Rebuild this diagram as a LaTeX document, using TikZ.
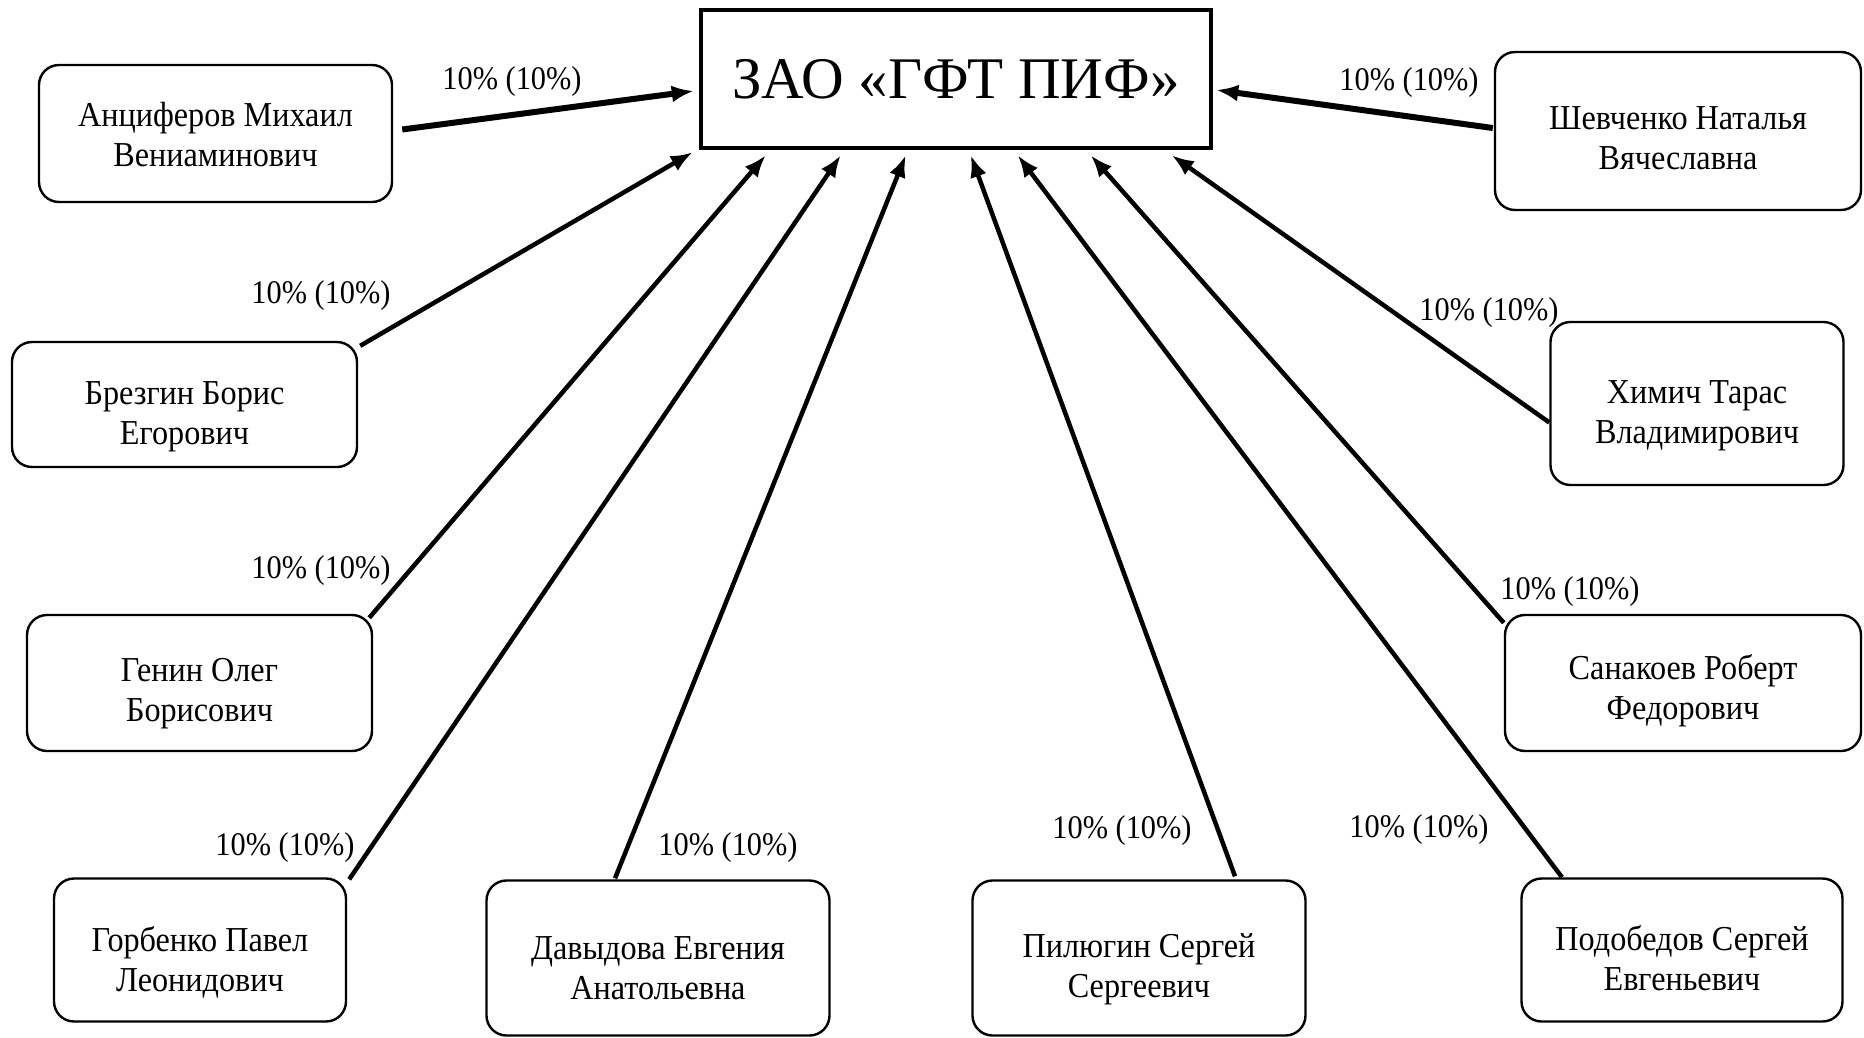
\documentclass[tikz,border=0pt]{standalone}
\usepackage{fontspec}
\setmainfont{Liberation Serif}
\newfontfamily\namefont[FakeStretch=0.92]{Liberation Serif}
\usetikzlibrary{arrows.meta}
\begin{document}
\begin{tikzpicture}[x=1pt,y=-1pt,
  person/.style={draw, line width=2.4pt, rounded corners=20pt, inner sep=0pt},
  nametext/.style={align=center, inner sep=0pt, font=\namefont\fontsize{35}{40}\selectfont},
  lbl/.style={inner sep=0pt, font=\namefont\fontsize{33}{36}\selectfont},
  arr/.style={line width=4.5pt, -{Latex[length=22pt,width=17pt]}},
  arrb/.style={line width=6pt, -{Latex[length=22pt,width=17pt]}}]
\useasboundingbox (0,0) rectangle (1864,1038);
\fill[white] (0,0) rectangle (1864,1038);

\node[draw, line width=4.5pt, minimum width=510pt, minimum height=138pt, inner sep=0pt,
  font=\fontsize{59}{64}\selectfont] (z) at (956,79) {ЗАО «ГФТ ПИФ»};

\node[person, minimum width=353pt, minimum height=137pt] (a1) at (215.5,133.5) {};
\node[person, minimum width=345pt, minimum height=125pt] (b2) at (184.5,404.5) {};
\node[person, minimum width=345pt, minimum height=136pt] (c3) at (199.5,683) {};
\node[person, minimum width=292pt, minimum height=143pt] (d4) at (200,950) {};
\node[person, minimum width=343pt, minimum height=155pt] (e5) at (658,958) {};
\node[person, minimum width=333pt, minimum height=155pt] (f6) at (1139,958) {};
\node[person, minimum width=321pt, minimum height=143pt] (g7) at (1682,950) {};
\node[person, minimum width=356pt, minimum height=136pt] (h8) at (1683,683) {};
\node[person, minimum width=293pt, minimum height=163pt] (i9) at (1697,403.5) {};
\node[person, minimum width=366pt, minimum height=158pt] (j10) at (1678,131) {};

\node[nametext] (a1t) at ([shift={(0,1)}]a1.center) {Анциферов Михаил\\Вениаминович};
\node[nametext] (b2t) at ([shift={(0,12)}]b2.center) {Брезгин Борис\\Егорович};
\node[nametext] (c3t) at ([shift={(0,11)}]c3.center) {Генин Олег\\Борисович};
\node[nametext] (d4t) at ([shift={(0,12)}]d4.center) {Горбенко Павел\\Леонидович};
\node[nametext] (e5t) at ([shift={(0,10)}]e5.center) {Давыдова Евгения\\Анатольевна};
\node[nametext] (f6t) at ([shift={(0,11)}]f6.center) {Пилюгин Сергей\\Сергеевич};
\node[nametext] (g7t) at ([shift={(0,8)}]g7.center) {Подобедов Сергей\\Евгеньевич};
\node[nametext] (h8t) at ([shift={(0,8)}]h8.center) {Санакоев Роберт\\Федорович};
\node[nametext] (i9t) at ([shift={(0,12)}]i9.center) {Химич Тарас\\Владимирович};
\node[nametext] (j10t) at ([shift={(0,7)}]j10.center) {Шевченко Наталья\\Вячеславна};

\draw[arrb] ([shift={(9,-4)}]a1.east) -- ([shift={(-5,12)}]z.west);
\draw[arr] ([shift={(2,5)}]b2.north east) -- ([shift={(-6,2)}]z.south west);
\draw[arr] ([shift={(-4,4)}]c3.north east) -- ([shift={(67,5)}]z.south west);
\draw[arr] ([shift={(2,2)}]d4.north east) -- ([shift={(142,5)}]z.south west);
\draw[arr] ([shift={(-43,-1)}]e5.north) -- ([shift={(207,5)}]z.south west);
\draw[arr] ([shift={(96,-3)}]f6.north) -- ([shift={(272,5)}]z.south west);
\draw[arr] ([shift={(-120,0)}]g7.north) -- ([shift={(319,5)}]z.south west);
\draw[arr] ([shift={(0,9)}]h8.north west) -- ([shift={(392,5)}]z.south west);
\draw[arr] ([shift={(0,19)}]i9.west) -- ([shift={(473,5)}]z.south west);
\draw[arrb] ([shift={(-1,-3)}]j10.west) -- ([shift={(3,11)}]z.east);

\node[lbl] (l1) at (512,82) {10\% (10\%)};
\node[lbl] (l2) at (321,296) {10\% (10\%)};
\node[lbl] (l3) at (321,571) {10\% (10\%)};
\node[lbl] (l4) at (285,848) {10\% (10\%)};
\node[lbl] (l5) at (728,848) {10\% (10\%)};
\node[lbl] (l6) at (1122,831) {10\% (10\%)};
\node[lbl] (l7) at (1419,830) {10\% (10\%)};
\node[lbl] (l8) at (1570,592) {10\% (10\%)};
\node[lbl] (l9) at (1489,313) {10\% (10\%)};
\node[lbl] (l10) at (1409,83) {10\% (10\%)};
\end{tikzpicture}
\end{document}
